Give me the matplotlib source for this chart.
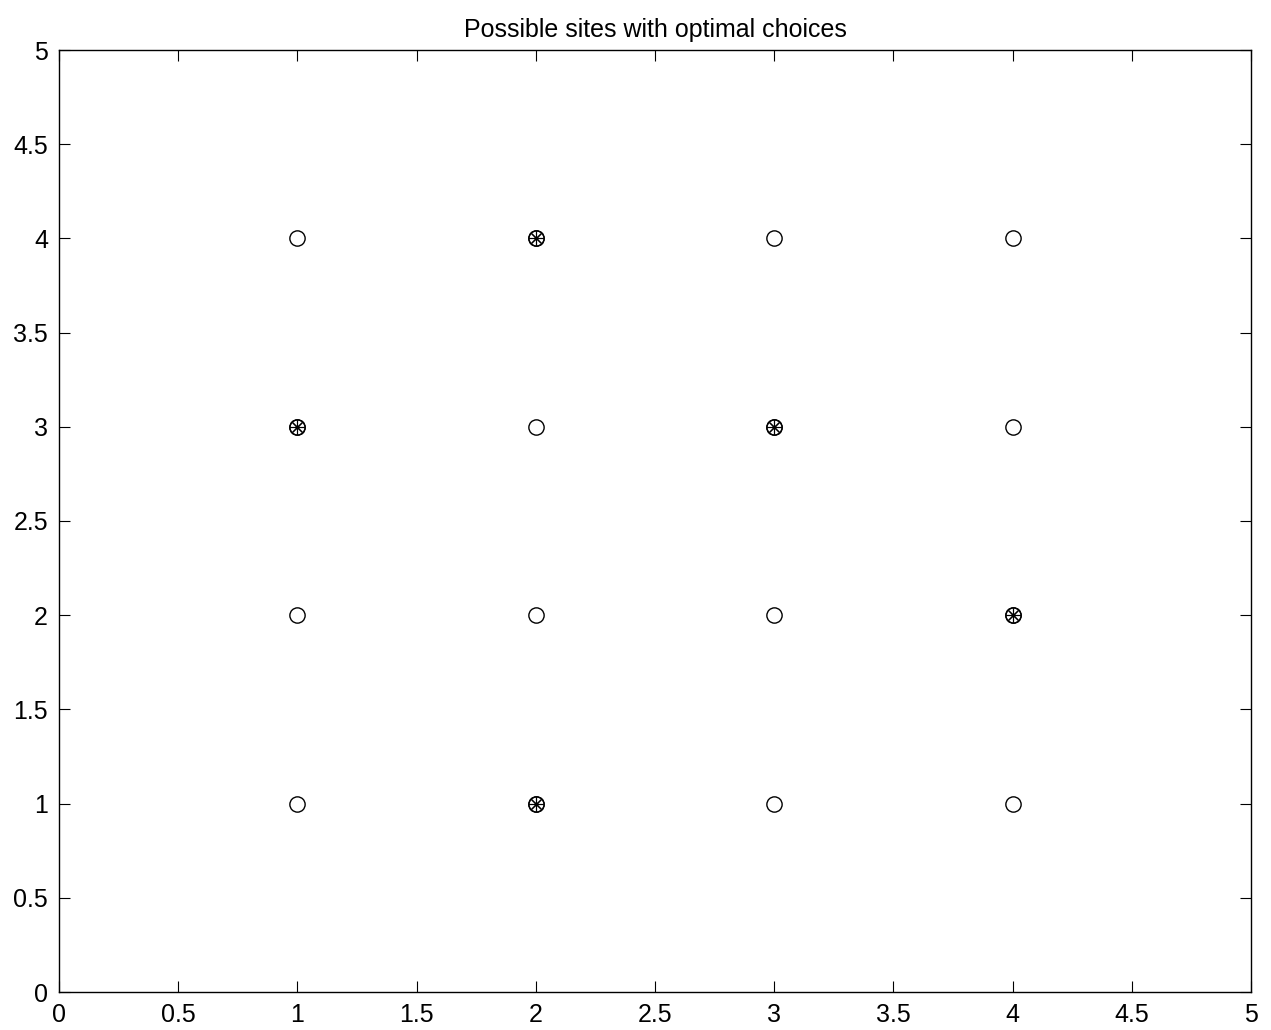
import matplotlib
matplotlib.use("Agg")
import matplotlib.pyplot as plt

plt.rcParams['font.family'] = ['Liberation Sans', 'DejaVu Sans']

# candidate sites (grid)
site_x = [1, 1, 1, 1, 2, 2, 2, 2, 3, 3, 3, 3, 4, 4, 4, 4]
site_y = [1, 2, 3, 4, 1, 2, 3, 4, 1, 2, 3, 4, 1, 2, 3, 4]

# optimal choices
opt_x = [1, 2, 2, 3, 4]
opt_y = [3, 4, 1, 3, 2]

ticks = [0, 0.5, 1, 1.5, 2, 2.5, 3, 3.5, 4, 4.5, 5]
tick_labels = ['0', '0.5', '1', '1.5', '2', '2.5', '3', '3.5', '4', '4.5', '5']

fig = plt.figure(figsize=(12.71, 10.30), dpi=100)
ax = fig.add_axes([59 / 1271, 1 - 992 / 1030, (1251 - 59) / 1271, (992 - 50) / 1030])

ax.plot(site_x, site_y, 'o', markersize=11, markerfacecolor='none',
        markeredgecolor='black', markeredgewidth=1.0, linestyle='None')
ax.plot(opt_x, opt_y, marker=(8, 2, 0), markersize=10, color='black',
        markeredgewidth=0.8, linestyle='None')
ax.plot(opt_x, opt_y, 'o', markersize=11, markerfacecolor='none',
        markeredgecolor='black', markeredgewidth=1.0, linestyle='None')

ax.set_xlim(0, 5)
ax.set_ylim(0, 5)
ax.set_xticks(ticks)
ax.set_xticklabels(tick_labels)
ax.set_yticks(ticks)
ax.set_yticklabels(tick_labels)
ax.tick_params(direction='in', top=True, right=True, length=8, width=0.8,
               labelsize=18, pad=8)
for s in ax.spines.values():
    s.set_linewidth(1.0)

ax.set_title('Possible sites with optimal choices', fontsize=18, pad=9)

fig.savefig('out.png', dpi=100)
